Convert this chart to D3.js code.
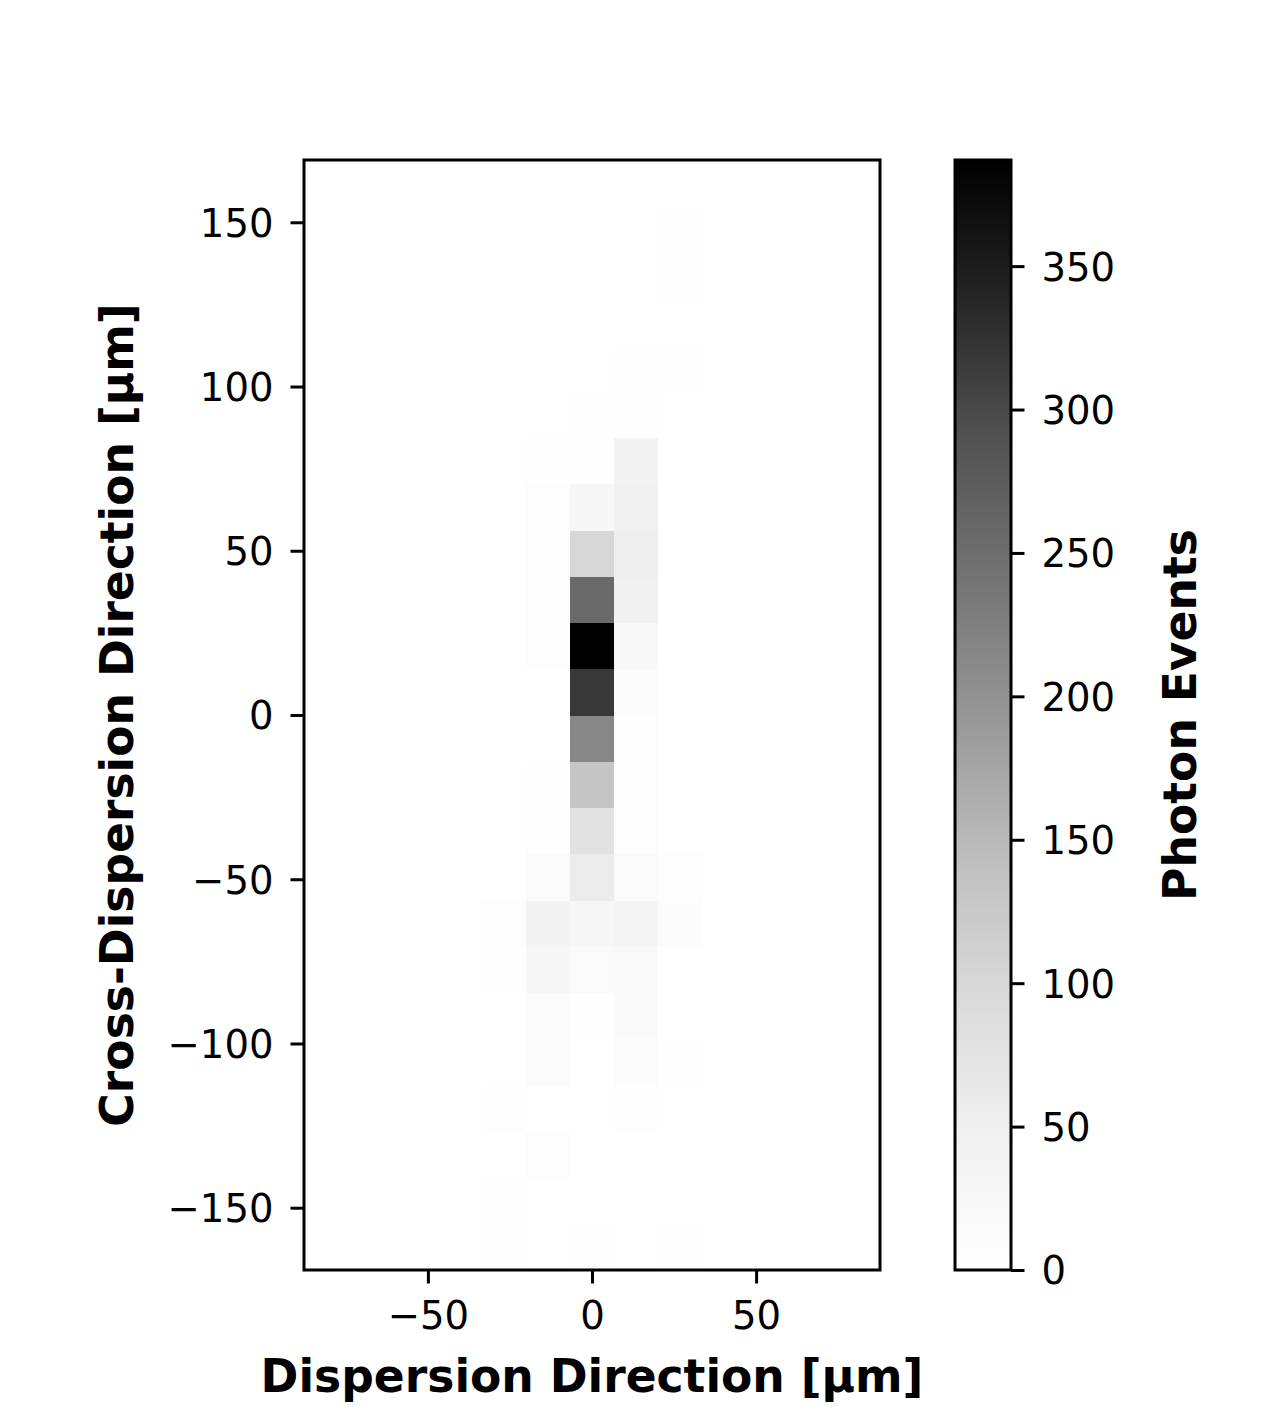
<!DOCTYPE html>
<html>
<head>
<meta charset="utf-8">
<script src="https://cdn.jsdelivr.net/npm/d3@7"></script>
<style>
  html, body { margin: 0; padding: 0; background: #fff; }
  svg { display: block; }
  text { font-family: "DejaVu Sans", sans-serif; fill: #000; }
</style>
</head>
<body>
<svg id="chart" width="1282" height="1427"></svg>
<script>
// ---- data ----
const xBinCenters = [-81, -67.5, -54, -40.5, -27, -13.5, 0, 13.5, 27, 40.5, 54, 67.5, 81];
const yBinCenters = [-161.92, -147.84, -133.76, -119.68, -105.6, -91.52, -77.44, -63.36, -49.28, -35.2, -21.12, -7.04,
                     7.04, 21.12, 35.2, 49.28, 63.36, 77.44, 91.52, 105.6, 119.68, 133.76, 147.84, 161.92];
const xBinWidth = 13.5;
const yBinWidth = 14.08;
// counts[row][col], row 0 = lowest y bin, col 0 = lowest x bin
const counts = [
  [0,0,0,0,2,0,2,0,2,0,0,0,0],
  [0,0,0,0,2,0,0,0,0,0,0,0,0],
  [0,0,0,0,0,8,0,1,0,0,0,0,0],
  [0,0,0,0,2,0,0,2,0,0,0,0,0],
  [0,0,0,0,0,12,0,9,3,0,0,0,0],
  [0,0,0,0,0,12,3,20,0,0,0,0,0],
  [0,0,0,0,2,29,16,18,0,0,0,0,0],
  [0,0,0,0,5,38,29,35,9,0,0,0,0],
  [0,0,0,0,0,17,57,17,5,0,0,0,0],
  [0,0,0,0,0,4,78,5,0,0,0,0,0],
  [0,0,0,0,0,2,131,8,0,0,0,0,0],
  [0,0,0,0,0,0,214,8,0,0,0,0,0],
  [0,0,0,0,0,1,318,9,0,0,0,0,0],
  [0,0,0,0,0,8,387,22,0,0,0,0,0],
  [0,0,0,0,0,8,255,46,0,0,0,0,0],
  [0,0,0,0,0,8,100,52,0,0,0,0,0],
  [0,0,0,0,0,8,26,49,0,0,0,0,0],
  [0,0,0,0,0,4,4,39,0,0,0,0,0],
  [0,0,0,0,0,1,2,4,0,0,0,0,0],
  [0,0,0,0,0,0,0,3,2,0,0,0,0],
  [0,0,0,0,0,0,0,0,0,0,0,0,0],
  [0,0,0,0,0,0,0,0,2,0,0,0,0],
  [0,0,0,0,0,0,0,0,2,0,0,0,0],
  [0,0,0,0,0,0,0,0,0,0,0,0,0]
];
const xTicks = [-50, 0, 50];
const yTicks = [-150, -100, -50, 0, 50, 100, 150];
const cbTicks = [0, 50, 100, 150, 200, 250, 300, 350];
const xLabel = "Dispersion Direction [µm]";
const yLabel = "Cross-Dispersion Direction [µm]";
const cbLabel = "Photon Events";
// matplotlib "Greys" colormap anchors
const greysAnchors = ["#ffffff","#f0f0f0","#d9d9d9","#bdbdbd","#969696","#737373","#525252","#252525","#000000"];

// ---- layout ----
const svg = d3.select("#chart");
const ax = {left: 304, right: 880, top: 160, bottom: 1270};
const cb = {left: 955, right: 1011, top: 160, bottom: 1270};
const tickLen = 13.5, lw = 3;
const tickFont = 38.6, labelFont = 45.6;

const vmax = d3.max(counts.flat());
const xScale = d3.scaleLinear().domain([-87.75, 87.75]).range([ax.left, ax.right]);
const yScale = d3.scaleLinear().domain([-168.96, 168.96]).range([ax.bottom, ax.top]);
const cmapT = d3.scaleLinear().domain(d3.range(9).map(i => i / 8)).range(greysAnchors).interpolate(d3.interpolateRgb).clamp(true);
const color = v => cmapT(v / vmax);

// ---- cells ----
const cells = [];
counts.forEach((row, r) => row.forEach((v, c) => cells.push({x: xBinCenters[c], y: yBinCenters[r], v})));
svg.append("g").selectAll("rect").data(cells).join("rect")
  .attr("x", d => xScale(d.x - xBinWidth / 2))
  .attr("y", d => yScale(d.y + yBinWidth / 2))
  .attr("width", d => xScale(d.x + xBinWidth / 2) - xScale(d.x - xBinWidth / 2) + 0.5)
  .attr("height", d => yScale(d.y - yBinWidth / 2) - yScale(d.y + yBinWidth / 2) + 0.5)
  .attr("fill", d => color(d.v))
  .attr("shape-rendering", "crispEdges");

// ---- axes ----
function styleAxis(g) {
  g.select(".domain").remove();
  g.selectAll(".tick line").attr("stroke", "#000").attr("stroke-width", lw);
  g.selectAll(".tick text").style("font-size", tickFont + "px").style("font-family", "DejaVu Sans");
}
const fmt = d => (d < 0 ? "\u2212" + Math.abs(d) : String(d));
svg.append("g").attr("transform", `translate(0,${ax.bottom})`)
  .call(d3.axisBottom(xScale).tickValues(xTicks).tickSize(tickLen).tickPadding(16).tickFormat(fmt))
  .call(styleAxis)
  .selectAll(".tick text").attr("dy", "0.76em");
svg.append("g").attr("transform", `translate(${ax.left},0)`)
  .call(d3.axisLeft(yScale).tickValues(yTicks).tickSize(tickLen).tickPadding(17).tickFormat(fmt))
  .call(styleAxis)
  .selectAll(".tick text").attr("dy", "0.36em");

svg.append("rect").attr("x", ax.left).attr("y", ax.top)
  .attr("width", ax.right - ax.left).attr("height", ax.bottom - ax.top)
  .attr("fill", "none").attr("stroke", "#000").attr("stroke-width", lw);

// ---- colorbar ----
const defs = svg.append("defs");
const grad = defs.append("linearGradient").attr("id", "cbgrad")
  .attr("x1", 0).attr("y1", 1).attr("x2", 0).attr("y2", 0);
d3.range(0, 1.0001, 1 / 64).forEach(t => grad.append("stop").attr("offset", t).attr("stop-color", cmapT(t)));
const cbScale = d3.scaleLinear().domain([0, vmax]).range([cb.bottom, cb.top]);
svg.append("rect").attr("x", cb.left).attr("y", cb.top)
  .attr("width", cb.right - cb.left).attr("height", cb.bottom - cb.top)
  .attr("fill", "url(#cbgrad)");
svg.append("g").attr("transform", `translate(${cb.right},0)`)
  .call(d3.axisRight(cbScale).tickValues(cbTicks).tickSize(tickLen).tickPadding(17))
  .call(styleAxis)
  .selectAll(".tick text").attr("dy", "0.36em");
svg.append("rect").attr("x", cb.left).attr("y", cb.top)
  .attr("width", cb.right - cb.left).attr("height", cb.bottom - cb.top)
  .attr("fill", "none").attr("stroke", "#000").attr("stroke-width", lw);

// ---- labels ----
svg.append("text").attr("x", (ax.left + ax.right) / 2).attr("y", 1392)
  .attr("text-anchor", "middle").style("font-size", labelFont + "px").style("font-weight", "bold")
  .text(xLabel);
svg.append("text").attr("transform", `translate(133,${(ax.top + ax.bottom) / 2}) rotate(-90)`)
  .attr("text-anchor", "middle").style("font-size", labelFont + "px").style("font-weight", "bold")
  .text(yLabel);
svg.append("text").attr("transform", `translate(1196,${(cb.top + cb.bottom) / 2}) rotate(-90)`)
  .attr("text-anchor", "middle").style("font-size", labelFont + "px").style("font-weight", "bold")
  .text(cbLabel);
</script>
</body>
</html>
